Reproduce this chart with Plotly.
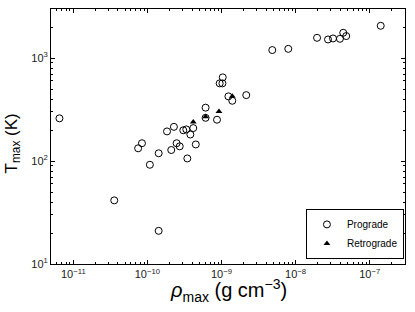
import plotly.graph_objects as go

# Prograde data (rho_max in g cm^-3, T_max in K)
pro_rho = [6.5e-12, 3.57e-11, 1.42e-10, 1.08e-10, 1.42e-10, 7.5e-11, 8.45e-11,
           1.84e-10, 2.28e-10, 2.1e-10, 2.48e-10, 2.73e-10, 3.05e-10, 3.35e-10,
           3.8e-10, 4.16e-10, 3.46e-10, 4.5e-10, 6.1e-10, 6.1e-10, 8.7e-10,
           9.45e-10, 1.03e-9, 1.04e-9, 1.24e-9, 1.4e-9, 2.16e-9, 4.85e-9,
           7.97e-9, 1.95e-8, 2.74e-8, 3.2e-8, 3.97e-8, 4.4e-8, 4.83e-8, 1.41e-7]
pro_T = [260, 41.5, 21, 92, 119, 133, 149,
         194, 215, 128, 149, 139, 199, 203,
         181, 209, 106, 145, 330, 263, 252,
         568, 568, 650, 425, 385, 437, 1197,
         1230, 1575, 1517, 1553, 1540, 1762, 1637, 2060]

# Retrograde data
ret_rho = [4.16e-10, 6.1e-10, 9.25e-10, 1.4e-9]
ret_T = [239, 269, 303, 425]

xtick_vals = [1e-11, 1e-10, 1e-9, 1e-8, 1e-7]
xtick_text = ["10<sup>\u221211</sup>", "10<sup>\u221210</sup>", "10<sup>\u22129</sup>",
              "10<sup>\u22128</sup>", "10<sup>\u22127</sup>"]
ytick_vals = [10, 100, 1000]
ytick_text = ["10<sup>1</sup>", "10<sup>2</sup>", "10<sup>3</sup>"]

x_title = "<i>\u03c1</i><sub>max</sub> (g cm<sup>\u22123</sup>)"
y_title = "T<sub>max</sub> (K)"

FONT = "Liberation Sans, Arial, sans-serif"

fig = go.Figure()
fig.add_trace(go.Scatter(
    x=pro_rho, y=pro_T, mode="markers", name="Prograde",
    marker=dict(symbol="circle-open", size=7, color="black", line=dict(width=1, color="black")),
))
fig.add_trace(go.Scatter(
    x=ret_rho, y=ret_T, mode="markers", name="Retrograde",
    marker=dict(symbol="triangle-up", size=6, color="black"),
))

axis_common = dict(
    type="log", showgrid=False, zeroline=False, automargin=False,
    showline=True, linecolor="black", linewidth=1, mirror="ticks",
    ticks="inside", ticklen=4, tickcolor="black", tickwidth=1,
    tickfont=dict(family=FONT, size=11, color="#222"),
    minor=dict(ticks="inside", ticklen=2, tickcolor="black", dtick="D1", showgrid=False),
)

fig.update_xaxes(**axis_common, range=[-11.301, -6.523],
                 tickvals=xtick_vals, ticktext=xtick_text)
fig.update_yaxes(**axis_common, range=[1, 3.477],
                 tickvals=ytick_vals, ticktext=ytick_text)

fig.add_annotation(text=x_title, xref="paper", yref="paper", x=0.5, y=0,
                   xanchor="center", yanchor="middle", yshift=-26, showarrow=False,
                   font=dict(family=FONT, size=20, color="black"))
fig.add_annotation(text=y_title, xref="paper", yref="paper", x=0, y=0.5,
                   xanchor="center", yanchor="middle", xshift=-39, yshift=-7,
                   textangle=-90, showarrow=False,
                   font=dict(family=FONT, size=17, color="black"))

fig.update_layout(
    width=415, height=312,
    margin=dict(l=51, r=10, t=9, b=48),
    plot_bgcolor="white", paper_bgcolor="white",
    showlegend=True,
    legend=dict(
        x=0.997, y=0.02, xanchor="right", yanchor="bottom",
        bordercolor="black", borderwidth=1, bgcolor="white",
        font=dict(family=FONT, size=10, color="black"),
        tracegroupgap=0, itemwidth=30,
    ),
)

fig.write_html("out.html", config={"displayModeBar": False},
               post_script="document.body.style.margin='0';")
